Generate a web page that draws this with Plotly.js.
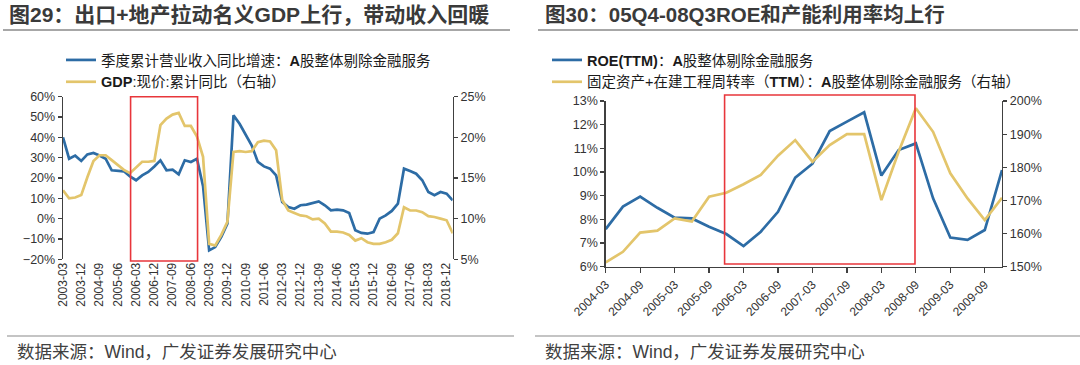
<!DOCTYPE html>
<html>
<head>
<meta charset="utf-8">
<script src="https://cdn.plot.ly/plotly-3.0.1.min.js"></script>
<style>html,body{margin:0;padding:0;background:#fff;}#chart{width:1080px;height:365px;}</style>
</head>
<body>
<div id="chart"></div>
<script>
// ---------- Data: left chart (图29) ----------
const leftQuarters = [
  "2003-03","2003-06","2003-09","2003-12","2004-03","2004-06","2004-09","2004-12",
  "2005-03","2005-06","2005-09","2005-12","2006-03","2006-06","2006-09","2006-12",
  "2007-03","2007-06","2007-09","2007-12","2008-03","2008-06","2008-09","2008-12",
  "2009-03","2009-06","2009-09","2009-12","2010-03","2010-06","2010-09","2010-12",
  "2011-03","2011-06","2011-09","2011-12","2012-03","2012-06","2012-09","2012-12",
  "2013-03","2013-06","2013-09","2013-12","2014-03","2014-06","2014-09","2014-12",
  "2015-03","2015-06","2015-09","2015-12","2016-03","2016-06","2016-09","2016-12",
  "2017-03","2017-06","2017-09","2017-12","2018-03","2018-06","2018-09","2018-12",
  "2019-03"
];
const leftTickLabels = [
  "2003-03","2003-12","2004-09","2005-06","2006-03","2006-12","2007-09","2008-06",
  "2009-03","2009-12","2010-09","2011-06","2012-03","2012-12","2013-09","2014-06",
  "2015-03","2015-12","2016-09","2017-06","2018-03","2018-12"
];
// 季度累计营业收入同比增速：A股整体剔除金融服务 (%)
const revenueGrowth = [
  40, 29.5, 31, 28.4, 31.6, 32.3, 31.1, 29.5, 23.8, 23.4, 23.3, 20.8, 18.9, 21.3, 23, 25.7,
  28.7, 23.8, 24.1, 21.8, 28.7, 27.9, 29.5, 16, -15.6, -14, -9, -2.5, 50.8, 46.7, 41, 36,
  27.9, 25.7, 24.6, 21.3, 8.2, 5.7, 4.9, 6.6, 6.9, 7.7, 8.5, 6.6, 4.1, 4.4, 4.1, 2.8,
  -5.7, -7, -7.4, -6.6, 0, 1.6, 3.8, 7.4, 24.6, 23.4, 22.1, 18.9, 13.1, 11.5, 13.1, 12.3,
  9
];
// GDP:现价:累计同比 (右轴, %)
const gdpNominal = [
  13.5, 12.5, 12.6, 12.9, 15.1, 17.1, 17.8, 17.8, 17.2, 16.6, 16.0, 15.6, 16.3, 17.0, 17.0, 17.1,
  21.5, 22.3, 22.8, 23.0, 21.4, 21.4, 20.1, 17.6, 6.9, 6.7, 8.0, 9.6, 18.2, 18.3, 18.2, 18.3,
  19.4, 19.6, 19.5, 18.4, 12.3, 11.0, 10.7, 10.4, 10.3, 9.9, 10.0, 9.4, 8.4, 8.4, 8.3, 8.0,
  7.3, 7.6, 7.1, 6.9, 6.9, 7.1, 7.4, 8.2, 11.4, 11.0, 11.0, 10.8, 10.3, 10.2, 10.0, 9.8,
  8.2
];

// ---------- Data: right chart (图30) ----------
const rightQuarters = [
  "2004-03","2004-06","2004-09","2004-12","2005-03","2005-06","2005-09","2005-12",
  "2006-03","2006-06","2006-09","2006-12","2007-03","2007-06","2007-09","2007-12",
  "2008-03","2008-06","2008-09","2008-12","2009-03","2009-06","2009-09","2009-12"
];
const rightTickLabels = [
  "2004-03","2004-09","2005-03","2005-09","2006-03","2006-09",
  "2007-03","2007-09","2008-03","2008-09","2009-03","2009-09"
];
// ROE(TTM)：A股整体剔除金融服务 (%)
const roeTTM = [
  7.59, 8.54, 8.96, 8.49, 8.07, 8.04, 7.69, 7.38, 6.87, 7.48, 8.32, 9.76,
  10.35, 11.73, 12.13, 12.52, 9.85, 10.93, 11.21, 8.89, 7.23, 7.13, 7.55, 10.08
];
// 固定资产+在建工程周转率（TTM）：A股整体剔除金融服务 (右轴, %)
const assetTurnover = [
  151.3, 154.5, 160.3, 160.9, 164.6, 163.6, 171.1, 172.3, 174.9, 177.7, 183.5, 188.2,
  181.7, 186.7, 190.0, 190.0, 170.1, 184.7, 197.8, 190.7, 178.2, 170.6, 164.1, 170.8
];

// ---------- Styling ----------
const BLUE = "#2D6CA5";
const GOLD = "#E3C56B";
const RED = "#E8363B";
const AXIS = "#404040";
const TXT = "#333333";
const W = 1080, H = 365;
const px = v => v / W;
const py = v => 1 - v / H;
const MIX = "'Liberation Sans', Arial, 'Noto Sans CJK SC', sans-serif";
const LAT = "'Liberation Sans', Arial, sans-serif";

const traces = [
  {x: leftQuarters, y: revenueGrowth, xaxis: "x", yaxis: "y", type: "scatter", mode: "lines",
   name: "季度累计营业收入同比增速：<b>A</b>股整体剔除金融服务", legend: "legend",
   line: {color: BLUE, width: 2.7}},
  {x: leftQuarters, y: gdpNominal, xaxis: "x", yaxis: "y2", type: "scatter", mode: "lines",
   name: "<b>GDP</b>:现价:累计同比（右轴）", legend: "legend",
   line: {color: GOLD, width: 2.7}},
  {x: rightQuarters, y: roeTTM, xaxis: "x3", yaxis: "y3", type: "scatter", mode: "lines",
   name: "<b>ROE(TTM)</b>：<b>A</b>股整体剔除金融服务", legend: "legend2",
   line: {color: BLUE, width: 2.7}},
  {x: rightQuarters, y: assetTurnover, xaxis: "x3", yaxis: "y4", type: "scatter", mode: "lines",
   name: "固定资产+在建工程周转率（<b>TTM</b>）：<b>A</b>股整体剔除金融服务（右轴）", legend: "legend2",
   line: {color: GOLD, width: 2.7}}
];
const leftDomX = [px(63), px(452.7)];
const leftDomY = [py(259.3), py(96.7)];
const rightDomX = [px(605.7), px(1002)];
const rightDomY = [py(266.7), py(101)];

const baseAxis = {
  showgrid: false, zeroline: false, automargin: false, fixedrange: true,
  linecolor: AXIS, linewidth: 1.3, tickcolor: AXIS, tickwidth: 1.2,
  tickfont: {family: LAT, size: 12.5, color: TXT}
};

const leftTickIdx = leftTickLabels.map(l => leftQuarters.indexOf(l));

const layout = {
  width: W, height: H,
  margin: {l: 0, r: 0, t: 0, b: 0},
  paper_bgcolor: "#ffffff", plot_bgcolor: "rgba(0,0,0,0)",
  showlegend: true,
  xaxis: Object.assign({}, baseAxis, {
    domain: leftDomX, anchor: "y", type: "category", range: [0, leftQuarters.length - 1],
    tickmode: "array", tickvals: leftTickLabels, ticktext: leftTickLabels,
    tickangle: -90, showline: false, ticks: "",
    tickfont: {family: LAT, size: 12, color: TXT}
  }),
  xaxis2: Object.assign({}, baseAxis, {
    domain: leftDomX, overlaying: "x", anchor: "free",
    position: py(218.3), type: "linear", range: [0, leftQuarters.length - 1],
    tickmode: "array", tickvals: leftTickIdx, showticklabels: false,
    showline: true, ticks: "outside", ticklen: 5, side: "bottom"
  }),
  yaxis: Object.assign({}, baseAxis, {
    domain: leftDomY, anchor: "x", range: [-20, 60], dtick: 10, tick0: 0,
    ticksuffix: "%", showline: true, ticks: "outside", ticklen: 4
  }),
  yaxis2: Object.assign({}, baseAxis, {
    domain: leftDomY, anchor: "x", overlaying: "y", side: "right",
    range: [5, 25], dtick: 5, tick0: 0, ticksuffix: "%", showline: true, ticks: "outside", ticklen: 4
  }),
  xaxis3: Object.assign({}, baseAxis, {
    domain: rightDomX, anchor: "y3", type: "category", range: [0, rightQuarters.length - 1],
    tickmode: "array", tickvals: rightTickLabels, ticktext: rightTickLabels,
    tickangle: -45, showline: true, ticks: "outside", ticklen: 5,
    tickfont: {family: LAT, size: 12, color: TXT}
  }),
  yaxis3: Object.assign({}, baseAxis, {
    domain: rightDomY, anchor: "x3", range: [6, 13], dtick: 1, tick0: 0,
    ticksuffix: "%", showline: true, ticks: "outside", ticklen: 4
  }),
  yaxis4: Object.assign({}, baseAxis, {
    domain: rightDomY, anchor: "x3", overlaying: "y3", side: "right",
    range: [150, 200], dtick: 10, tick0: 0, ticksuffix: "%", showline: true, ticks: "outside", ticklen: 4
  }),
  legend: {
    x: px(61), y: py(44), xanchor: "left", yanchor: "top",
    bgcolor: "rgba(0,0,0,0)", borderwidth: 0, tracegroupgap: 0,
    font: {family: MIX, size: 14.5, color: "#1a1a1a"}, itemwidth: 30
  },
  legend2: {
    x: px(547), y: py(44), xanchor: "left", yanchor: "top",
    bgcolor: "rgba(0,0,0,0)", borderwidth: 0, tracegroupgap: 0,
    font: {family: MIX, size: 14.5, color: "#1a1a1a"}, itemwidth: 30
  },
  shapes: [
    // highlight boxes
    {type: "rect", xref: "x", yref: "paper", x0: 11.1, x1: 22.1, y0: py(261), y1: py(96.7),
     line: {color: RED, width: 1.6}, fillcolor: "rgba(0,0,0,0)"},
    {type: "rect", xref: "x3", yref: "paper", x0: 6.9, x1: 17.95, y0: py(264), y1: py(95),
     line: {color: RED, width: 1.6}, fillcolor: "rgba(0,0,0,0)"},
    // title rules
    {type: "line", xref: "paper", yref: "paper", x0: px(3), x1: px(510), y0: py(30), y1: py(30),
     line: {color: "#8a8a8a", width: 1.5}},
    {type: "line", xref: "paper", yref: "paper", x0: px(538), x1: px(1078), y0: py(30), y1: py(30),
     line: {color: "#8a8a8a", width: 1.5}},
    // source rules
    {type: "line", xref: "paper", yref: "paper", x0: px(7), x1: px(514), y0: py(336), y1: py(336),
     line: {color: "#8a8a8a", width: 1.2}},
    {type: "line", xref: "paper", yref: "paper", x0: px(535), x1: px(1080), y0: py(336), y1: py(336),
     line: {color: "#8a8a8a", width: 1.2}}
  ],
  annotations: [
    {xref: "paper", yref: "paper", x: px(7), y: py(15), xanchor: "left", yanchor: "middle",
     showarrow: false, text: "<b>图29：出口+地产拉动名义GDP上行，带动收入回暖</b>",
     font: {family: MIX, size: 21, color: "#3a3a3a"}},
    {xref: "paper", yref: "paper", x: px(543), y: py(15), xanchor: "left", yanchor: "middle",
     showarrow: false, text: "<b>图30：05Q4-08Q3ROE和产能利用率均上行</b>",
     font: {family: MIX, size: 20.5, color: "#3a3a3a"}},
    {xref: "paper", yref: "paper", x: px(15), y: py(352), xanchor: "left", yanchor: "middle",
     showarrow: false, text: "数据来源：Wind，广发证券发展研究中心",
     font: {family: MIX, size: 17.5, color: "#404040"}},
    {xref: "paper", yref: "paper", x: px(543), y: py(352), xanchor: "left", yanchor: "middle",
     showarrow: false, text: "数据来源：Wind，广发证券发展研究中心",
     font: {family: MIX, size: 17.5, color: "#404040"}}
  ]
};

Plotly.newPlot("chart", traces, layout, {displayModeBar: false, staticPlot: true});
</script>
</body>
</html>
